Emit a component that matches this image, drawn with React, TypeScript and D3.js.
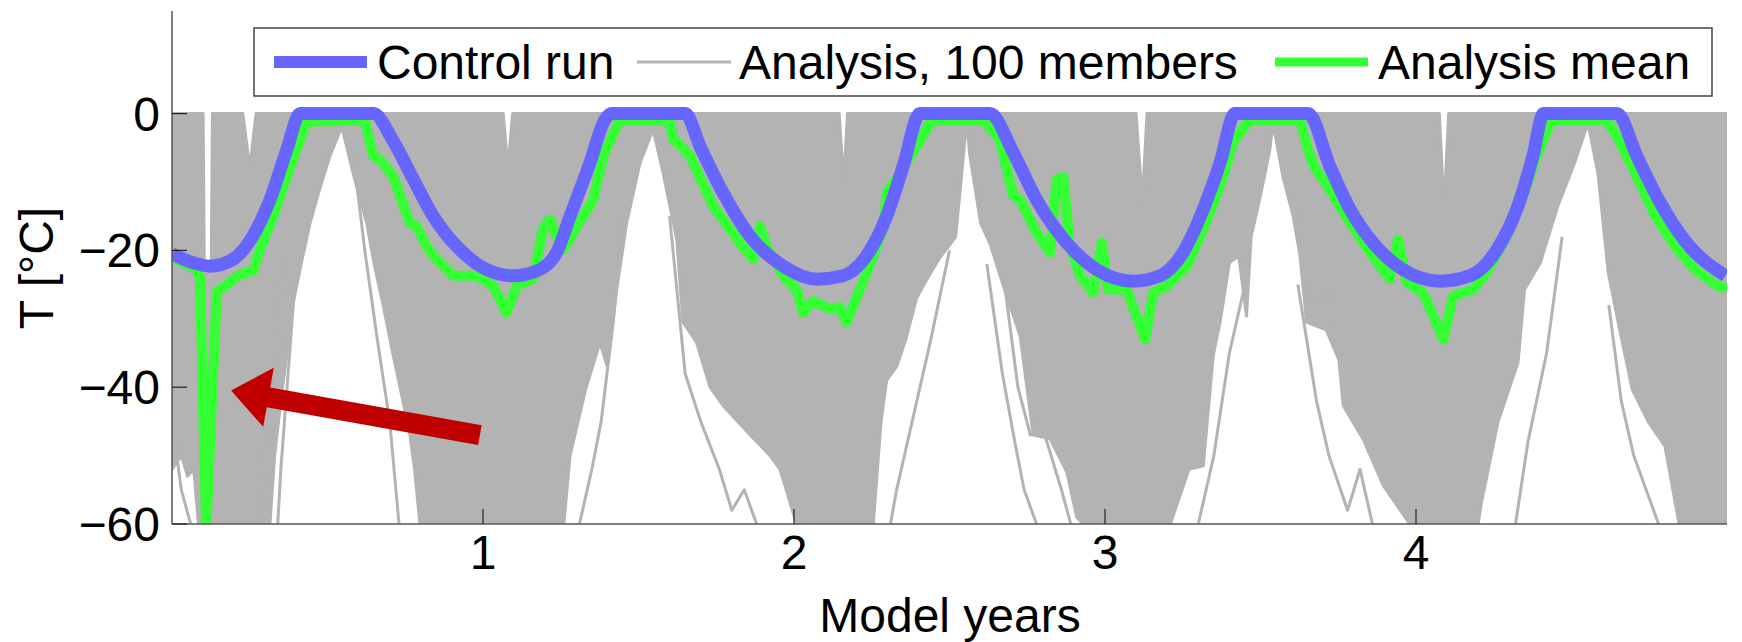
import React from "react";
import * as d3 from "d3";

// ---- data (years, °C) ----
const controlRun: [number, number][] = [
  [0, -20.5], [0.068, -21.8], [0.122, -22.3], [0.196, -21.3], [0.26, -17.9], [0.315, -12.6], [0.369, -5.3], [0.412, 0],
  [0.647, 0], [0.711, -4], [0.776, -9.6], [0.84, -15], [0.926, -19.9], [1.012, -22.8], [1.097, -23.7], [1.172, -23],
  [1.237, -20.3], [1.28, -15], [1.344, -7.2], [1.392, -0.9], [1.414, 0], [1.65, 0], [1.698, -4.8], [1.772, -11.6],
  [1.858, -17.9], [1.965, -22.3], [2.073, -24.2], [2.158, -23.7], [2.233, -20.8], [2.298, -15], [2.351, -7.7], [2.405, 0],
  [2.63, 0], [2.705, -5.7], [2.78, -12.6], [2.877, -18.9], [2.973, -22.8], [3.09, -24.5], [3.177, -23.7], [3.251, -20.3],
  [3.316, -14], [3.37, -7.2], [3.418, 0], [3.653, 0], [3.723, -7.7], [3.788, -14], [3.862, -18.9], [3.958, -22.8],
  [4.077, -24.5], [4.174, -23.7], [4.26, -19.9], [4.324, -14], [4.376, -6.2], [4.41, 0], [4.646, 0], [4.71, -6.2],
  [4.785, -13], [4.87, -18.9], [4.995, -23.7],
];

const analysisMean: [number, number][] = [
  [0, -21], [0.079, -22.8], [0.09, -24], [0.11, -61], [0.144, -26], [0.171, -25.2], [0.219, -23.5], [0.261, -23],
  [0.283, -19.9], [0.326, -15], [0.369, -9.2], [0.412, -3.8], [0.433, -1.2], [0.62, -1.0], [0.647, -6.2], [0.669, -6.7],
  [0.711, -9.2], [0.765, -16], [0.787, -16.5], [0.819, -19.4], [0.84, -20.8], [0.904, -23.7], [0.98, -23.7], [1.033, -25.2],
  [1.076, -29.1], [1.108, -25.2], [1.161, -24.2], [1.193, -16.9], [1.215, -15.5], [1.237, -17.9], [1.258, -19.9], [1.322, -15],
  [1.354, -12.6], [1.387, -6.2], [1.43, -1.9], [1.44, -1], [1.6, -1], [1.611, -3.8], [1.625, -4.2], [1.666, -6.2],
  [1.74, -13.5], [1.772, -15.5], [1.826, -18.9], [1.869, -21.3], [1.891, -16.5], [1.912, -19.4], [1.965, -23.7], [2.008, -25.7],
  [2.03, -29.1], [2.062, -27.4], [2.116, -28.6], [2.148, -28.3], [2.169, -30.5], [2.212, -25.7], [2.255, -20.8], [2.287, -16.9],
  [2.298, -11.6], [2.341, -8.7], [2.394, -4.8], [2.437, -1.4], [2.45, -1], [2.61, -1], [2.662, -3.8], [2.705, -12],
  [2.727, -12.6], [2.78, -17.4], [2.823, -20.3], [2.845, -9.6], [2.866, -9.3], [2.887, -19.4], [2.92, -23.7], [2.962, -26.2],
  [2.99, -18.9], [3.01, -25.7], [3.07, -25.7], [3.129, -33], [3.155, -26.2], [3.198, -25.2], [3.263, -22.3], [3.316, -16.9],
  [3.37, -10.6], [3.412, -4.3], [3.455, -1.4], [3.47, -1], [3.627, -1], [3.659, -6.2], [3.675, -7.9], [3.723, -11.1],
  [3.788, -16], [3.852, -20.3], [3.916, -24.2], [3.942, -18.4], [3.97, -24.7], [4.023, -26.2], [4.088, -33], [4.12, -26.7],
  [4.184, -25.7], [4.228, -23.2], [4.292, -17.9], [4.345, -12], [4.388, -6.2], [4.431, -1.4], [4.44, -1], [4.611, -1],
  [4.64, -2.8], [4.695, -7.7], [4.77, -15], [4.833, -19.4], [4.897, -22.8], [4.97, -25.2], [5.0, -25.5],
];

// upper edge of the dense 100-member spread
const membersUpper: [number, number][] = [
  [0, 0], [0.1, 0], [0.104, -23], [0.126, -23], [0.13, 0], [0.228, 0], [0.25, -8], [0.27, 0],
  [1.065, 0], [1.08, -8], [1.095, 0], [2.145, 0], [2.16, -10], [2.172, 0], [3.1, 0], [3.12, -13], [3.135, 0],
  [4.075, 0], [4.09, -14], [4.105, 0], [5, 0],
];

// lower edge of the dense 100-member spread
const membersLower: [number, number][] = [
  [0, -52], [0.03, -50], [0.05, -53], [0.07, -52], [0.085, -60], [0.315, -60], [0.33, -50], [0.35, -42],
  [0.37, -35], [0.39, -27.6], [0.42, -21], [0.444, -16], [0.475, -11], [0.508, -6.2], [0.546, -1.9], [0.582, -8.7],
  [0.626, -16], [0.65, -22], [0.679, -28], [0.705, -34], [0.733, -40], [0.765, -47], [0.78, -52], [0.797, -60],
  [1.26, -60], [1.28, -50], [1.33, -40.3], [1.376, -33.5], [1.4, -37], [1.43, -25.7], [1.462, -16], [1.505, -7.2],
  [1.547, -2.3], [1.579, -8.7], [1.623, -18.4], [1.643, -30.5], [1.687, -33.5], [1.73, -40], [1.772, -42.7], [1.859, -47],
  [1.923, -50], [1.955, -52], [2.008, -60], [2.255, -60], [2.28, -45], [2.298, -39], [2.33, -37], [2.36, -33],
  [2.394, -27], [2.43, -24], [2.47, -21], [2.52, -18], [2.545, -6], [2.555, -1], [2.565, -6], [2.6, -16],
  [2.63, -19], [2.684, -26.7], [2.727, -32.5], [2.769, -47], [2.823, -47.5], [2.877, -52.4], [2.909, -59], [2.93, -60],
  [3.21, -60], [3.27, -52], [3.316, -51.5], [3.348, -35.4], [3.37, -30.5], [3.4, -21.8], [3.43, -20.8], [3.455, -29.6],
  [3.47, -18], [3.5, -12], [3.53, -5.3], [3.54, -1.4], [3.572, -9.2], [3.605, -15], [3.627, -20.8], [3.648, -30.5],
  [3.711, -31.6], [3.752, -36], [3.766, -42.7], [3.83, -47.6], [3.895, -54.4], [3.98, -60], [4.2, -60], [4.21, -57],
  [4.264, -45], [4.328, -36.4], [4.349, -25.7], [4.4, -21.8], [4.456, -13.5], [4.51, -7.2], [4.553, -1.4], [4.585, -8.7],
  [4.618, -23.2], [4.65, -30.5], [4.695, -40.3], [4.746, -45], [4.8, -48.6], [4.846, -60], [5, -60],
];

// single members visible at the fringes of the spread
const fringeMembers: [number, number][][] = [
  [[0.0, -45], [0.03, -55], [0.06, -60]],
  [[0.36, -20], [0.33, -33], [0.3, -48], [0.285, -60]],
  [[0.4, -22], [0.37, -40], [0.35, -52], [0.34, -60]],
  [[0.58, -5], [0.62, -20], [0.66, -33], [0.7, -45], [0.73, -60]],
  [[1.45, -14], [1.42, -30], [1.38, -45], [1.35, -52], [1.31, -60]],
  [[1.6, -15], [1.65, -38], [1.7, -45], [1.76, -52], [1.8, -58], [1.84, -55], [1.88, -60]],
  [[2.5, -20], [2.44, -33], [2.38, -45], [2.33, -55], [2.31, -60]],
  [[2.62, -22], [2.67, -38], [2.71, -48], [2.74, -55], [2.78, -60]],
  [[2.68, -26], [2.72, -40], [2.76, -47], [2.8, -46], [2.86, -55], [2.89, -60]],
  [[3.45, -25], [3.4, -35], [3.35, -50], [3.3, -60]],
  [[3.6, -12], [3.64, -22], [3.68, -28], [3.71, -25], [3.74, -32]],
  [[3.62, -25], [3.68, -42], [3.72, -50], [3.78, -58], [3.82, -52], [3.86, -60]],
  [[4.47, -18], [4.42, -35], [4.36, -48], [4.32, -60]],
  [[4.62, -28], [4.66, -42], [4.7, -50], [4.74, -55], [4.78, -60]],
];

const arrowTail: [number, number] = [0.99, -47];
const arrowTip: [number, number] = [0.19, -40.5];

const xTicks = [1, 2, 3, 4];
const yTicks = [0, -20, -40, -60];
const legendLabels = ["Control run", "Analysis, 100 members", "Analysis mean"];

// ---- layout ----
const W = 1742, H = 642;
const left = 172, right = 1727, top = 11, bottom = 524;
const FONT = "'Liberation Sans', Arial, Helvetica, sans-serif";
const BLUE = "#6666ff", GREEN = "#33ff33", GRAY = "#b3b3b3", RED = "#c00000";

export default function App() {
  const x = d3.scaleLinear().domain([0, 5]).range([left, right]);
  const y = d3.scaleLinear().domain([-60, 15]).range([bottom, top]);
  const line = d3.line<[number, number]>().x(d => x(d[0])).y(d => y(d[1]));
  const smooth = d3.line<[number, number]>().x(d => x(d[0])).y(d => y(d[1])).curve(d3.curveMonotoneX);
  const band = line([...membersUpper, ...membersLower.slice().reverse()]) + "Z";

  const tx = x(arrowTip[0]), ty = y(arrowTip[1]);
  const sx = x(arrowTail[0]), sy = y(arrowTail[1]);
  const len = Math.hypot(tx - sx, ty - sy);
  const ux = (tx - sx) / len, uy = (ty - sy) / len;
  const nx = -uy, ny = ux;
  const shaftW = 10, headW = 30, headL = 38;
  const bx = tx - ux * headL, by = ty - uy * headL;
  const arrowPts = [
    [sx + nx * shaftW, sy + ny * shaftW],
    [bx + nx * shaftW, by + ny * shaftW],
    [bx + nx * headW, by + ny * headW],
    [tx, ty],
    [bx - nx * headW, by - ny * headW],
    [bx - nx * shaftW, by - ny * shaftW],
    [sx - nx * shaftW, sy - ny * shaftW],
  ].map(p => p.join(",")).join(" ");

  const legendItems = [
    { label: legendLabels[0], color: BLUE, w: 12, x0: 274, x1: 367, tx: 377 },
    { label: legendLabels[1], color: GRAY, w: 3, x0: 637, x1: 731, tx: 739 },
    { label: legendLabels[2], color: GREEN, w: 9, x0: 1275, x1: 1368, tx: 1378 },
  ];
  const legY = 62;

  return (
    <svg width={W} height={H} style={{ display: "block", position: "absolute", left: 0, top: 0 }} fontFamily={FONT}>
      <rect width={W} height={H} fill="white" />
      <defs>
        <clipPath id="plot">
          <rect x={left} y={top} width={right - left} height={bottom - top} />
        </clipPath>
      </defs>
      <g clipPath="url(#plot)">
        <path d={band} fill={GRAY} stroke={GRAY} strokeWidth={3} strokeLinejoin="round" />
        {fringeMembers.map((m, i) => (
          <path key={i} d={line(m) || ""} fill="none" stroke={GRAY} strokeWidth={3} strokeLinejoin="round" />
        ))}
        <path d={line(analysisMean) || ""} fill="none" stroke={GREEN} strokeWidth={10} strokeLinejoin="round" />
        <path d={smooth(controlRun) || ""} fill="none" stroke={BLUE} strokeWidth={13} strokeLinejoin="round" />
      </g>
      <polygon points={arrowPts} fill={RED} />
      <line x1={left} x2={left} y1={top} y2={bottom} stroke="#555" strokeWidth={1.5} />
      <line x1={left} x2={right} y1={bottom} y2={bottom} stroke="#555" strokeWidth={1.5} />
      {yTicks.map(t => (
        <g key={"y" + t}>
          <line x1={left} x2={left + 15} y1={y(t)} y2={y(t)} stroke="#222" strokeWidth={1.2} />
          <text x={160} y={y(t) + 17} textAnchor="end" fontSize={48} fill="black">
            {t < 0 ? "\u2212" + Math.abs(t) : String(t)}
          </text>
        </g>
      ))}
      {xTicks.map(t => (
        <g key={"x" + t}>
          <line x1={x(t)} x2={x(t)} y1={bottom} y2={bottom - 15} stroke="#222" strokeWidth={1.2} />
          <text x={x(t)} y={569} textAnchor="middle" fontSize={48} fill="black">{t}</text>
        </g>
      ))}
      <text x={950} y={632} textAnchor="middle" fontSize={48} fill="black">Model years</text>
      <text transform="translate(53,268) rotate(-90)" textAnchor="middle" fontSize={48} fill="black">T [°C]</text>
      <rect x={254} y={28} width={1712 - 254} height={68} fill="white" stroke="#444" strokeWidth={1.5} />
      {legendItems.map(it => (
        <g key={it.label}>
          <line x1={it.x0} x2={it.x1} y1={legY} y2={legY} stroke={it.color} strokeWidth={it.w} />
          <text x={it.tx} y={legY + 17} fontSize={48} fill="black">{it.label}</text>
        </g>
      ))}
    </svg>
  );
}
